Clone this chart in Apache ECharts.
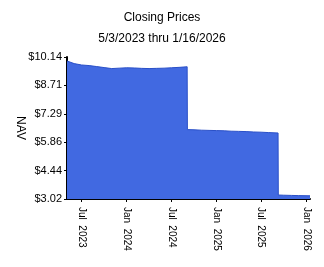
<!DOCTYPE html>
<html><head><meta charset="utf-8">
<script src="https://cdn.jsdelivr.net/npm/echarts@6/dist/echarts.min.js"></script>
<style>html,body{margin:0;padding:0;background:#fff}#c{width:324px;height:267px}</style>
</head><body><div id="c"></div>
<script>
var dates = ['2023-05-03','2023-05-10','2023-06-01','2023-07-01','2023-08-01','2023-09-01','2023-10-01','2023-11-01','2023-12-01',
'2024-01-01','2024-02-01','2024-03-01','2024-04-01','2024-05-01','2024-06-01','2024-07-01','2024-08-01','2024-09-03',
'2024-09-04','2024-10-01','2024-11-01','2024-12-01','2025-01-01','2025-02-01','2025-03-01','2025-04-01','2025-05-01','2025-06-01','2025-07-01','2025-08-01','2025-09-08',
'2025-09-09','2025-10-01','2025-11-01','2025-12-01','2026-01-16'];
var nav = [9.94,9.86,9.81,9.74,9.71,9.66,9.61,9.56,9.58,
9.60,9.59,9.57,9.56,9.57,9.58,9.60,9.62,9.65,
6.50,6.49,6.47,6.46,6.45,6.44,6.42,6.41,6.40,6.38,6.37,6.35,6.33,
3.22,3.21,3.20,3.19,3.18];
var yTickLabels = ['$3.02','$4.44','$5.86','$7.29','$8.71','$10.14'];
var xTickDates = ['2023-07-01','2024-01-01','2024-07-01','2025-01-01','2025-07-01','2026-01-01'];
var xTickLabels = ['Jul  2023','Jan  2024','Jul  2024','Jan  2025','Jul  2025','Jan  2026'];
var yMin = 3.02, yMax = 10.14, yInt = (yMax - yMin) / 5;
var font = 'Liberation Sans, Arial, sans-serif';
function t(d){ return Date.UTC(+d.slice(0,4), +d.slice(5,7)-1, +d.slice(8,10)) / 86400000; }
var chart = echarts.init(document.getElementById('c'));
var tickTimes = xTickDates.map(t);
chart.setOption({
  animation: false,
  backgroundColor: '#fff',
  title: [
    {text: 'Closing Prices', left: 'center', top: 7, textStyle: {fontFamily: font, fontSize: 12, fontWeight: 'normal', color: '#000'}},
    {text: '5/3/2023 thru 1/16/2026', left: 'center', top: 28, textStyle: {fontFamily: font, fontSize: 12, fontWeight: 'normal', color: '#000'}}
  ],
  grid: {left: 67, right: 14, top: 57, bottom: 68, containLabel: false},
  xAxis: {
    type: 'value',
    min: t(dates[0]),
    max: t(dates[dates.length-1]),
    axisLine: {lineStyle: {color: '#000', width: 2}},
    axisTick: {show: true, length: 3, lineStyle: {color: '#000'}, customValues: tickTimes},
    axisLabel: {
      customValues: tickTimes,
      rotate: -90, margin: 8, fontFamily: font, fontSize: 10, color: '#000',
      formatter: function(v){ var i = tickTimes.indexOf(v); return i >= 0 ? xTickLabels[i] : ''; }
    },
    splitLine: {show: false}
  },
  yAxis: {
    type: 'value', min: yMin, max: yMax, interval: yInt,
    name: 'NAV', nameLocation: 'middle', nameRotate: -90, nameGap: 47, nameMoveOverlap: false,
    nameTextStyle: {fontFamily: font, fontSize: 12, color: '#000', align: 'center', verticalAlign: 'middle'},
    axisLine: {show: true, lineStyle: {color: '#000', width: 2}},
    axisTick: {show: true, length: 3, lineStyle: {color: '#000'}},
    axisLabel: {fontFamily: font, fontSize: 11, color: '#000', margin: 5,
      formatter: function(v){ var i = Math.round((v - yMin) / yInt); return yTickLabels[i] || ''; }},
    splitLine: {show: false}
  },
  series: [{
    type: 'line',
    data: dates.map(function(d, i){ return [t(d), nav[i]]; }),
    showSymbol: false, symbol: 'none',
    lineStyle: {color: '#2a50c8', width: 1},
    areaStyle: {color: '#4169e1', opacity: 1, origin: 'start'}
  }]
});
</script></body></html>
